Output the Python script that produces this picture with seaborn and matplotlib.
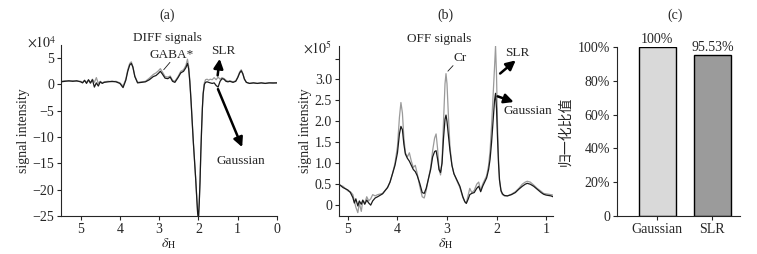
import matplotlib
matplotlib.use("Agg")
import matplotlib.pyplot as plt
import numpy as np
import pandas as pd
import seaborn as sns

# ---- panel (a): DIFF signals (x1e4) ----
ppm_a = [5.5, 5.4, 5.3, 5.2, 5.1, 5.0, 4.95, 4.9, 4.85, 4.8,
         4.75, 4.7, 4.65, 4.6, 4.55, 4.5, 4.45, 4.4, 4.3, 4.2,
         4.1, 4.0, 3.92, 3.85, 3.8, 3.75, 3.71, 3.67, 3.62, 3.55,
         3.45, 3.35, 3.25, 3.15, 3.08, 3.02, 2.97, 2.92, 2.85, 2.78,
         2.72, 2.66, 2.6, 2.52, 2.45, 2.38, 2.32, 2.28, 2.25, 2.22,
         2.19, 2.16, 2.13, 2.1, 2.07, 2.04, 2.02, 2.0, 1.98, 1.96,
         1.94, 1.92, 1.9, 1.88, 1.85, 1.82, 1.78, 1.74, 1.7, 1.65,
         1.6, 1.55, 1.5, 1.45, 1.4, 1.35, 1.3, 1.25, 1.2, 1.12,
         1.05, 1.0, 0.95, 0.91, 0.87, 0.83, 0.78, 0.7, 0.6, 0.5,
         0.4, 0.3, 0.2, 0.1, 0.0]
gauss_a = [0.5, 0.6, 0.7, 0.6, 0.7, 0.5, 0.3, 0.8, 0.2, 0.9,
           0.3, 0.9, -0.5, 0.3, -0.3, 0.5, 0.2, 0.4, 0.5, 0.6,
           0.5, 0.2, -0.6, 0.8, 2.5, 3.7, 4.0, 3.3, 1.5, 0.3,
           0.4, 0.5, 0.9, 1.5, 1.7, 2.1, 2.5, 2.0, 1.2, 1.1,
           1.4, 0.6, 0.4, 1.3, 2.2, 2.5, 3.2, 4.0, 3.0, 0.5,
           -3.0, -7.0, -11.0, -14.5, -18.0, -22.0, -24.5, -25.5, -22.5, -18.5,
           -13.0, -8.5, -4.5, -1.8, 0.0, 0.4, 0.5, 0.4, 0.3, 0.2,
           0.3, -0.2, -0.5, 0.6, 1.1, 1.0, 0.6, 0.5, 0.6, 0.4,
           0.6, 1.3, 2.2, 2.6, 2.0, 1.0, 0.4, 0.2, 0.3, 0.2,
           0.3, 0.2, 0.3, 0.3, 0.3]
slr_a = [0.6, 0.7, 0.6, 0.7, 0.6, 0.6, 0.4, 0.7, 0.4, 0.8,
         0.2, 1.0, 0.4, 1.3, 0.2, 0.6, 0.3, 0.5, 0.6, 0.5,
         0.6, 0.3, -0.3, 1.0, 2.8, 4.0, 4.3, 3.4, 1.6, 0.4,
         0.5, 0.6, 1.2, 1.9, 2.2, 2.6, 3.0, 2.4, 1.5, 1.4,
         1.6, 0.8, 0.6, 1.5, 2.5, 2.8, 3.6, 4.8, 3.5, 0.8,
         -2.8, -7.0, -11.0, -14.5, -18.0, -22.0, -24.5, -25.5, -22.5, -18.5,
         -13.0, -8.5, -4.5, -1.6, 0.3, 0.9, 1.0, 0.8, 1.0, 0.9,
         1.3, 0.9, 1.4, 1.0, 1.3, 1.1, 0.8, 0.6, 0.7, 0.5,
         0.7, 1.4, 2.4, 2.8, 2.1, 1.1, 0.4, 0.2, 0.3, 0.2,
         0.3, 0.2, 0.3, 0.2, 0.3]

# ---- panel (b): OFF signals (x1e5) ----
ppm_b = [5.18, 5.1, 5.0, 4.95, 4.9, 4.87, 4.84, 4.8, 4.77, 4.73,
         4.7, 4.66, 4.62, 4.58, 4.54, 4.5, 4.45, 4.4, 4.3, 4.2,
         4.15, 4.1, 4.05, 4.0, 3.96, 3.93, 3.9, 3.87, 3.84, 3.8,
         3.76, 3.72, 3.68, 3.64, 3.6, 3.55, 3.5, 3.46, 3.42, 3.38,
         3.33, 3.29, 3.25, 3.22, 3.19, 3.16, 3.13, 3.1, 3.07, 3.04,
         3.02, 3.0, 2.97, 2.94, 2.9, 2.86, 2.8, 2.74, 2.68, 2.64,
         2.61, 2.57, 2.54, 2.5, 2.45, 2.4, 2.36, 2.32, 2.28, 2.24,
         2.2, 2.16, 2.13, 2.1, 2.07, 2.04, 2.02, 2.0, 1.98, 1.96,
         1.94, 1.91, 1.88, 1.84, 1.78, 1.7, 1.62, 1.55, 1.48, 1.42,
         1.38, 1.32, 1.25, 1.18, 1.1, 1.05, 1.0, 0.95, 0.9, 0.86]
gauss_b = [0.50, 0.42, 0.36, 0.30, 0.18, 0.05, 0.15, -0.02, 0.10, 0.02,
           0.12, 0.02, 0.12, 0.05, 0.00, 0.10, 0.17, 0.20, 0.27, 0.42,
           0.55, 0.75, 0.95, 1.25, 1.70, 1.88, 1.80, 1.45, 1.22, 1.12,
           1.05, 0.95, 0.85, 0.80, 0.70, 0.52, 0.30, 0.28, 0.40, 0.60,
           0.85, 1.15, 1.28, 1.30, 1.10, 0.85, 0.78, 1.00, 1.60, 2.05,
           2.15, 2.00, 1.65, 1.30, 0.95, 0.75, 0.60, 0.45, 0.20, 0.08,
           0.04, 0.15, 0.25, 0.28, 0.30, 0.40, 0.45, 0.32, 0.45, 0.55,
           0.65, 0.85, 1.10, 1.50, 2.00, 2.50, 2.67, 2.30, 1.60, 1.00,
           0.60, 0.35, 0.27, 0.23, 0.22, 0.25, 0.30, 0.38, 0.45, 0.50,
           0.52, 0.50, 0.45, 0.38, 0.30, 0.26, 0.24, 0.23, 0.22, 0.20]
slr_b = [0.48, 0.45, 0.34, 0.32, 0.25, 0.10, -0.05, -0.18, 0.05, -0.15,
         0.10, 0.05, 0.20, 0.10, 0.15, 0.25, 0.22, 0.25, 0.28, 0.42,
         0.55, 0.75, 1.00, 1.40, 2.10, 2.45, 2.20, 1.60, 1.25, 1.15,
         1.25, 1.05, 0.90, 0.95, 0.75, 0.45, 0.20, 0.17, 0.35, 0.60,
         0.90, 1.30, 1.60, 1.70, 1.35, 0.85, 0.72, 1.05, 2.00, 2.90,
         3.14, 2.90, 2.10, 1.40, 0.95, 0.75, 0.58, 0.42, 0.18, 0.08,
         0.05, 0.25, 0.40, 0.30, 0.35, 0.50, 0.55, 0.35, 0.50, 0.60,
         0.70, 0.95, 1.30, 1.90, 2.60, 3.30, 3.80, 3.10, 1.90, 1.10,
         0.60, 0.33, 0.25, 0.22, 0.22, 0.26, 0.32, 0.40, 0.50, 0.55,
         0.57, 0.55, 0.48, 0.40, 0.33, 0.28, 0.27, 0.26, 0.25, 0.24]

# ---- panel (c): normalised ratio ----
methods = ["Gaussian", "SLR"]
ratios = [100.0, 95.53]
ratio_labels = ["100%", "95.53%"]

sns.set_style("ticks")
plt.rcParams["font.family"] = ["Liberation Serif", "Noto Sans CJK SC"]
plt.rcParams["mathtext.fontset"] = "stix"
plt.rcParams["font.size"] = 9.5

fig = plt.figure(figsize=(7.57, 2.54), dpi=100)
W, H = 757, 254


def px_axes(l, t, r, b):
    return fig.add_axes([l / W, 1 - b / H, (r - l) / W, (b - t) / H])


ax1 = px_axes(61, 45, 277, 216)
ax2 = px_axes(339, 46, 553, 216)
ax3 = px_axes(617, 47, 740, 216)

gray = "#9a9a9a"
dark = "#1a1a1a"
tick_kw = dict(direction="out", length=3, width=0.8, labelsize=10, pad=2)
big_arrow = dict(arrowstyle="-|>", color="black", lw=1.8, mutation_scale=14)

# (a)
sns.lineplot(x=ppm_a, y=slr_a, ax=ax1, color=gray, lw=0.9, sort=False)
sns.lineplot(x=ppm_a, y=gauss_a, ax=ax1, color=dark, lw=0.9, sort=False)
ax1.set_xlim(5.5, 0)
ax1.set_ylim(-25, 7.5)
ax1.set_xticks([5, 4, 3, 2, 1, 0])
ax1.set_yticks([5, 0, -5, -10, -15, -20, -25])
ax1.set_ylabel("signal intensity", labelpad=2, fontsize=10)
ax1.set_xlabel(r"$\delta_{\rm H}$", labelpad=0, fontsize=10)
ax1.annotate("", xy=(2.93, 2.4), xytext=(2.68, 4.6),
             arrowprops=dict(arrowstyle="-", color=dark, lw=0.6))
ax1.text(2.68, 5.6, "GABA*", ha="center", va="center")
ax1.annotate("", xy=(1.45, 5.4), xytext=(1.52, 1.2), arrowprops=big_arrow)
ax1.text(1.38, 6.3, "SLR", ha="center", va="center")
ax1.annotate("", xy=(0.86, -12.4), xytext=(1.53, -0.4), arrowprops=big_arrow)
ax1.text(0.93, -14.5, "Gaussian", ha="center", va="center")
fig.text(167 / W, 1 - 38 / H, "DIFF signals", ha="center", va="center")
fig.text(42 / W, 1 - 43 / H, r"$\times 10^4$", ha="center", va="center", fontsize=10)

# (b)
sns.lineplot(x=ppm_b, y=slr_b, ax=ax2, color=gray, lw=0.9, sort=False)
sns.lineplot(x=ppm_b, y=gauss_b, ax=ax2, color=dark, lw=0.9, sort=False)
ax2.set_xlim(5.18, 0.86)
ax2.set_ylim(-0.26, 3.8)
ax2.set_xticks([5, 4, 3, 2, 1])
ax2.set_yticks([0, 0.5, 1.0, 1.5, 2.0, 2.5, 3.0, 3.5])
ax2.set_yticklabels(["0", "0.5", "1.0", "1.5", "2.0", "2.5", "3.0", ""])
ax2.set_ylabel("signal intensity", labelpad=2, fontsize=10)
ax2.set_xlabel(r"$\delta_{\rm H}$", labelpad=0, fontsize=10)
ax2.annotate("", xy=(3.02, 3.15), xytext=(2.84, 3.38),
             arrowprops=dict(arrowstyle="-", color=dark, lw=0.6))
ax2.text(2.74, 3.52, "Cr", ha="center", va="center")
ax2.annotate("", xy=(1.57, 3.5), xytext=(1.97, 3.1), arrowprops=big_arrow)
ax2.text(1.58, 3.64, "SLR", ha="center", va="center")
ax2.annotate("", xy=(1.6, 2.44), xytext=(2.03, 2.62), arrowprops=big_arrow)
ax2.text(1.36, 2.24, "Gaussian", ha="center", va="center")
fig.text(439 / W, 1 - 39 / H, "OFF signals", ha="center", va="center")
fig.text(318 / W, 1 - 48 / H, r"$\times 10^5$", ha="center", va="center", fontsize=10)

# (c)
sns.barplot(x=methods, y=ratios, ax=ax3, hue=methods, palette=["#d9d9d9", "#9b9b9b"],
            edgecolor="black", linewidth=1.0, width=0.67, legend=False)
for i, lab in enumerate(ratio_labels):
    ax3.text(i, ratios[i] + 0.5, lab, ha="center", va="bottom", fontsize=10)
ax3.set_xlim(-0.73, 1.5)
ax3.set_ylim(0, 100)
ax3.set_yticks([0, 20, 40, 60, 80, 100])
ax3.set_yticklabels(["0", "20%", "40%", "60%", "80%", "100%"])
ax3.set_ylabel("归一化比值", labelpad=4, fontsize=10)
ax3.set_xlabel("")

for ax in (ax1, ax2, ax3):
    sns.despine(ax=ax)
    ax.tick_params(**tick_kw)
    for s in ("left", "bottom"):
        ax.spines[s].set_linewidth(0.8)

fig.text(167 / W, 1 - 15 / H, "(a)", ha="center", va="center", fontsize=10)
fig.text(445 / W, 1 - 15 / H, "(b)", ha="center", va="center", fontsize=10)
fig.text(675 / W, 1 - 15 / H, "(c)", ha="center", va="center", fontsize=10)

fig.savefig("out.png", dpi=100)
